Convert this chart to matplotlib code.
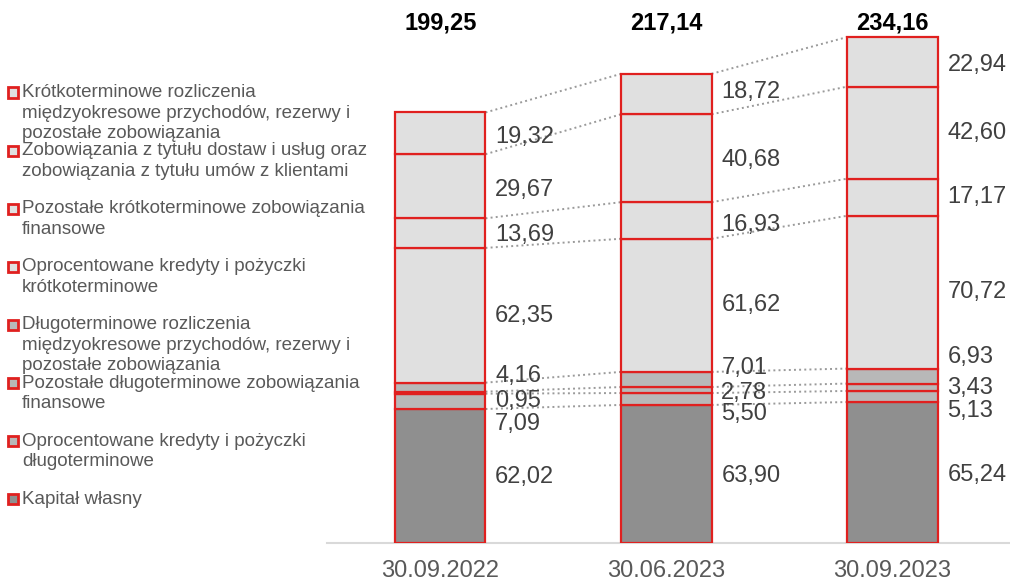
#!/usr/bin/env python3
"""
Stacked bars: structure of equity and liabilities (mld zł) at three dates.
"""
import numpy as np
import matplotlib
matplotlib.use("Agg")
import matplotlib.pyplot as plt
from matplotlib.patches import Rectangle

plt.rcParams["font.family"] = ["Liberation Sans", "DejaVu Sans"]

dates = ["30.09.2022", "30.06.2023", "30.09.2023"]

# bottom -> top
series_names = [
    "Kapitał własny",
    "Oprocentowane kredyty i pożyczki\ndługoterminowe",
    "Pozostałe długoterminowe zobowiązania\nfinansowe",
    "Długoterminowe rozliczenia\nmiędzyokresowe przychodów, rezerwy i\npozostałe zobowiązania",
    "Oprocentowane kredyty i pożyczki\nkrótkoterminowe",
    "Pozostałe krótkoterminowe zobowiązania\nfinansowe",
    "Zobowiązania z tytułu dostaw i usług oraz\nzobowiązania z tytułu umów z klientami",
    "Krótkoterminowe rozliczenia\nmiędzyokresowe przychodów, rezerwy i\npozostałe zobowiązania",
]

kapital = [62.02, 63.90, 65.24]
kredyty_dl = [7.09, 5.50, 5.13]
pozostale_fin_dl = [0.95, 2.78, 3.43]
rozliczenia_dl = [4.16, 7.01, 6.93]
kredyty_kr = [62.35, 61.62, 70.72]
pozostale_fin_kr = [13.69, 16.93, 17.17]
dostawy = [29.67, 40.68, 42.60]
rozliczenia_kr = [19.32, 18.72, 22.94]

values = np.array([kapital, kredyty_dl, pozostale_fin_dl, rozliczenia_dl,
                   kredyty_kr, pozostale_fin_kr, dostawy, rozliczenia_kr])

fills = ["#8f8f8f", "#b8b8b8", "#b8b8b8", "#b8b8b8",
         "#e0e0e0", "#e0e0e0", "#e0e0e0", "#e0e0e0"]
RED = "#e0201f"

# vertical nudges (pixels, down = positive) so small labels don't collide
label_shift = np.array([
    [1, 2, 2],
    [23, 15, 15],
    [8, 3, 1],
    [-11, -11, -19],
    [1, 0, 0],
    [2, 5, 0],
    [4, 2, 0],
    [4, -2, 3],
])


def fmt(v):
    return f"{v:.2f}".replace(".", ",")


fig = plt.figure(figsize=(10.10, 5.82), dpi=100)
ax = fig.add_axes([0.324, 0.067, 0.676, 0.933])

x = np.arange(len(dates))
width = 0.40
bottoms = np.zeros(len(dates))
tops = []
for k in range(len(values)):
    ax.bar(x, values[k], width, bottom=bottoms, color=fills[k],
           edgecolor=RED, linewidth=1.6, zorder=3)
    for i in range(len(dates)):
        ax.annotate(fmt(values[k][i]),
                    (x[i] + width / 2, bottoms[i] + values[k][i] / 2),
                    xytext=(7, -label_shift[k][i] * 0.72),
                    textcoords="offset points", ha="left", va="center",
                    fontsize=17, color="#404040", zorder=5)
    bottoms = bottoms + values[k]
    tops.append(bottoms.copy())

# dotted connectors between consecutive bars
for lvl in tops:
    for i in range(len(dates) - 1):
        ax.plot([x[i] + width / 2, x[i + 1] - width / 2], [lvl[i], lvl[i + 1]],
                ls=":", color="#9a9a9a", lw=1.4, zorder=2)

# totals
totals = values.sum(axis=0)
for i, t in enumerate(totals):
    ax.text(x[i], 0.957, fmt(t), transform=ax.get_xaxis_transform(),
            ha="center", va="center", fontsize=17, fontweight="bold",
            color="black")

ax.set_xlim(-0.50, 2.52)
ax.set_ylim(0, 251.3)
ax.set_xticks(x)
ax.set_xticklabels(dates, fontsize=17, color="#595959")
ax.tick_params(axis="x", length=0, pad=12)
ax.set_yticks([])
for side in ["left", "right", "top"]:
    ax.spines[side].set_visible(False)
ax.spines["bottom"].set_color("#d9d9d9")
ax.spines["bottom"].set_linewidth(1.5)
ax.patch.set_alpha(0)

# hand-placed legend (entries overlap like in the source)
leg_top = 92.5      # px from top, first line of first entry
leg_step = 58.1     # px between entries
line_gap = 20.5     # px between wrapped lines
W, H = 1010, 582
for j, k in enumerate(range(len(series_names) - 1, -1, -1)):
    y0 = leg_top + j * leg_step
    fig.patches.append(Rectangle((8 / W, 1 - (y0 + 5) / H), 10 / W, 10 / H,
                                 transform=fig.transFigure,
                                 facecolor=fills[k], edgecolor=RED, lw=2.0))
    for n, line in enumerate(series_names[k].split("\n")):
        fig.text(22 / W, 1 - (y0 + n * line_gap) / H, line, ha="left",
                 va="center", fontsize=13.5, color="#595959")

fig.savefig("out.png", dpi=100)
